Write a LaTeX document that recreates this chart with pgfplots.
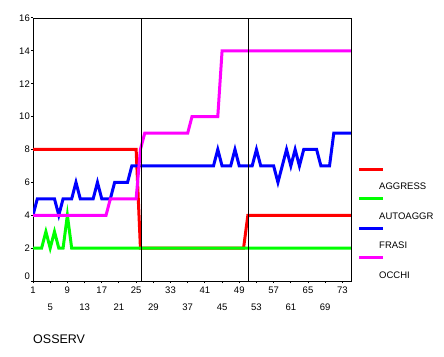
\documentclass[border=0pt]{standalone}
\usepackage{fontspec}
\setmainfont{Liberation Sans}
\usepackage{pgfplots}
\pgfplotsset{compat=1.18}
\usepackage{pgfplotstable}
\definecolor{pgreen}{RGB}{0,255,0}
\definecolor{pred}{RGB}{255,0,0}
\definecolor{pblue}{RGB}{0,0,255}
\definecolor{pmag}{RGB}{255,0,255}

\pgfplotstableread{
x a b f o
1 8 2 4 4
2 8 2 5 4
3 8 2 5 4
4 8 3 5 4
5 8 2 5 4
6 8 3 5 4
7 8 2 4 4
8 8 2 5 4
9 8 4 5 4
10 8 2 5 4
11 8 2 6 4
12 8 2 5 4
13 8 2 5 4
14 8 2 5 4
15 8 2 5 4
16 8 2 6 4
17 8 2 5 4
18 8 2 5 4
19 8 2 5 5
20 8 2 6 5
21 8 2 6 5
22 8 2 6 5
23 8 2 6 5
24 8 2 7 5
25 8 2 7 5
26 2 2 7 8
27 2 2 7 9
28 2 2 7 9
29 2 2 7 9
30 2 2 7 9
31 2 2 7 9
32 2 2 7 9
33 2 2 7 9
34 2 2 7 9
35 2 2 7 9
36 2 2 7 9
37 2 2 7 9
38 2 2 7 10
39 2 2 7 10
40 2 2 7 10
41 2 2 7 10
42 2 2 7 10
43 2 2 7 10
44 2 2 8 10
45 2 2 7 14
46 2 2 7 14
47 2 2 7 14
48 2 2 8 14
49 2 2 7 14
50 2 2 7 14
51 4 2 7 14
52 4 2 7 14
53 4 2 8 14
54 4 2 7 14
55 4 2 7 14
56 4 2 7 14
57 4 2 7 14
58 4 2 6 14
59 4 2 7 14
60 4 2 8 14
61 4 2 7 14
62 4 2 8 14
63 4 2 7 14
64 4 2 8 14
65 4 2 8 14
66 4 2 8 14
67 4 2 8 14
68 4 2 7 14
69 4 2 7 14
70 4 2 7 14
71 4 2 9 14
72 4 2 9 14
73 4 2 9 14
74 4 2 9 14
75 4 2 9 14
}\data

\begin{document}
\begin{tikzpicture}
\useasboundingbox (0,0) rectangle (444pt,356pt);
\begin{axis}[
  at={(33pt,75pt)}, anchor=south west,
  scale only axis, width=318pt, height=263pt,
  xmin=1, xmax=75, ymin=0, ymax=16,
  xtick={1,9,...,73},
  extra x ticks={5,13,...,69},
  xticklabel style={yshift=-3pt},
  extra x tick style={xticklabel style={yshift=-16.5pt}},
  ytick={2,4,...,16},
  extra y ticks={0},
  extra y tick style={yticklabel style={yshift=5pt}},
  tick align=outside, major tick length=2pt,
  xtick pos=bottom, ytick pos=left,
  tick style={black, line width=1pt},
  axis line style={line width=0.8pt},
  /pgf/number format/assume math mode=true,
  tick label style={font=\fontsize{9.5}{11}\selectfont, inner sep=1pt},
  xlabel={OSSERV},
  xlabel style={at={(axis description cs:0,0)}, anchor=west, yshift=-58.5pt, inner sep=0pt, font=\fontsize{12.5}{14}\selectfont},
  legend cell align=left,
  legend style={draw=none, fill=none, at={(1,1)}, anchor=north west, xshift=8pt, yshift=-164.4pt,
    inner sep=0pt, row sep=20.6pt, column sep=0pt, font=\fontsize{9.5}{11}\selectfont,
    nodes={inner sep=0pt, text height=7pt, text depth=2pt}},
  legend image code/.code={\draw[#1,overlay] (0pt,18pt) -- (23.5pt,18pt); \path[draw=none,fill=none] (0pt,-3pt) rectangle (20pt,3pt);},
]
\addplot[pred, line width=3pt, mark=none] table[x=x,y=a]{\data};
\addlegendentry{AGGRESS}
\addplot[pgreen, line width=3pt, mark=none] table[x=x,y=b]{\data};
\addlegendentry{AUTOAGGR}
\addplot[pblue, line width=3pt, mark=none] table[x=x,y=f]{\data};
\addlegendentry{FRASI}
\addplot[pmag, line width=3pt, mark=none] table[x=x,y=o]{\data};
\addlegendentry{OCCHI}
\addplot[black, line width=1pt, forget plot] coordinates {(26.3,0) (26.3,16)};
\addplot[black, line width=1pt, forget plot] coordinates {(51.2,0) (51.2,16)};
\end{axis}
\end{tikzpicture}
\end{document}
